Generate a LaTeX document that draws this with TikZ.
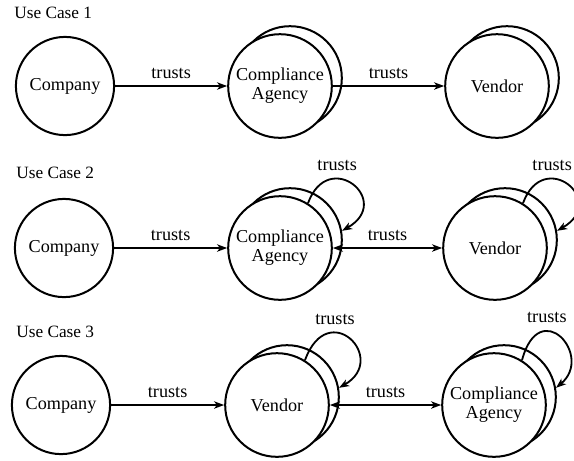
\documentclass[tikz,border=0pt]{standalone}
\usepackage{fontspec}
\setmainfont{Liberation Serif}
\usetikzlibrary{arrows.meta}
\begin{document}
\begin{tikzpicture}[x=0.55pt,y=0.55pt,
  ent/.style={circle,draw,line width=1.1pt,fill=white,inner sep=0pt,align=center,font=\fontsize{10}{10.5}\selectfont},
  comp/.style={ent,minimum size=54pt},
  big/.style={ent,minimum size=57pt},
  tip/.tip={Stealth[length=5.5pt,width=4pt,inset=1.5pt]},
  rel/.style={line width=1pt,-tip},
  birel/.style={line width=1pt,tip-tip},
  lbl/.style={font=\fontsize{10}{12}\selectfont,inner sep=0pt},
  uctitle/.style={anchor=west,font=\fontsize{9.5}{11}\selectfont,inner sep=0pt}]

\useasboundingbox (0,0) rectangle (574,-460);

% ---------------- Use Case 1
\node[uctitle] (t1) at (14,-13) {Use Case 1};
\node[comp] (co1) at (65,-86) {Company};
\node[big] (ca1b) at (290,-78) {};
\node[big] (ca1) at (280,-86) {Compliance\\Agency};
\node[big] (v1b) at (507,-78) {};
\node[big] (v1) at (497,-86) {Vendor};
\draw[rel] (co1) -- node[lbl,above=3.3pt]{trusts} (ca1);
\draw[rel] (ca1) -- node[lbl,above=3.3pt]{trusts} (v1);

% ---------------- Use Case 2
\node[uctitle] (t2) at (16,-173) {Use Case 2};
\node[comp] (co2) at (64,-248) {Company};
\node[big] (ca2b) at (290,-240) {};
\node[big] (ca2) at (280,-248) {Compliance\\Agency};
\node[big] (v2b) at (505,-240) {};
\node[big] (v2) at (495,-248) {Vendor};
\draw[rel] (co2) -- node[lbl,above=3.3pt]{trusts} (ca2);
\draw[birel] (ca2) -- node[lbl,above=3.3pt]{trusts} (v2);
\draw[rel] (ca2.58) .. controls +(70:60) and +(30:60) .. node[lbl,above=4pt,pos=0.33]{trusts} (ca2b.10);
\draw[rel] (v2.58) .. controls +(70:60) and +(30:60) .. node[lbl,above=4pt,pos=0.33]{trusts} (v2b.10);

% ---------------- Use Case 3
\node[uctitle] (t3) at (16,-332) {Use Case 3};
\node[comp] (co3) at (61,-405) {Company};
\node[big] (v3b) at (287,-397) {};
\node[big] (v3) at (277,-405) {Vendor};
\node[big] (ca3b) at (504,-397) {};
\node[big] (ca3) at (494,-405) {Compliance\\Agency};
\draw[rel] (co3) -- node[lbl,above=3.3pt]{trusts} (v3);
\draw[birel] (v3) -- node[lbl,above=3.3pt]{trusts} (ca3);
\draw[rel] (v3.58) .. controls +(70:68) and +(30:58) .. node[lbl,above=4pt,pos=0.33]{trusts} (v3b.10);
\draw[rel] (ca3.58) .. controls +(75:68) and +(40:50) .. node[lbl,above=4pt,pos=0.33]{trusts} (ca3b.10);
\end{tikzpicture}
\end{document}
